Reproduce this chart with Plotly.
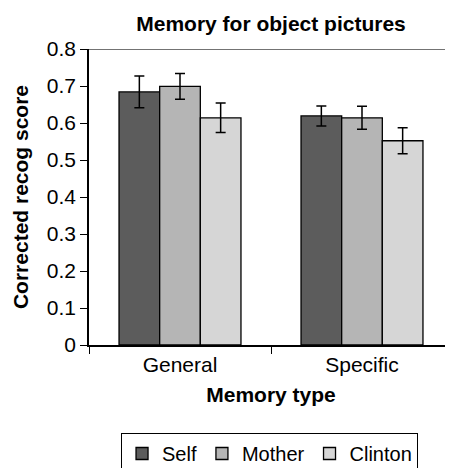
import plotly.graph_objects as go

categories = ["General", "Specific"]
series_names = ["Self", "Mother", "Clinton"]
self_vals = [0.684, 0.619]
mother_vals = [0.699, 0.614]
clinton_vals = [0.614, 0.552]
self_err = [0.043, 0.027]
mother_err = [0.035, 0.031]
clinton_err = [0.040, 0.035]
colors = ["#5c5c5c", "#b5b5b5", "#d6d6d6"]

values = [self_vals, mother_vals, clinton_vals]
errors = [self_err, mother_err, clinton_err]

FONT = "Liberation Sans, Arial, Helvetica, sans-serif"

fig = go.Figure()
for name, vals, errs, col in zip(series_names, values, errors, colors):
    fig.add_trace(go.Bar(
        x=categories, y=vals, name=name,
        marker=dict(color=col, line=dict(color="black", width=1.3)),
        error_y=dict(type="data", array=errs, color="black", thickness=1.5, width=5),
    ))

# page body adds an 8px offset, so the figure is 8px smaller and shifted
fig.update_layout(
    width=445, height=460,
    margin=dict(l=81, r=0, t=41, b=123, autoexpand=False),
    paper_bgcolor="white", plot_bgcolor="white",
    barmode="group", bargap=0.33, bargroupgap=0,
    font=dict(family=FONT, size=21, color="black"),
    title=dict(text="<b>Memory for object pictures</b>", x=0.5, xref="paper",
               y=1 - 16 / 460, yref="container", yanchor="middle",
               font=dict(size=21)),
    showlegend=True,
    legend=dict(orientation="h", x=0.088, xanchor="left",
                y=1 - 425 / 460, yref="container", yanchor="top",
                bordercolor="black", borderwidth=1, font=dict(size=20),
                traceorder="normal", itemwidth=30),
)
fig.update_xaxes(
    type="category", range=[-0.5, 1.5], showline=True, linecolor="black", linewidth=1.5,
    ticks="outside", tickson="boundaries", ticklen=7, tickcolor="black",
    title=dict(text="<b>Memory type</b>", font=dict(size=21), standoff=12),
    tickfont=dict(size=21), automargin=False,
)
fig.update_yaxes(
    range=[0, 0.8], dtick=0.1, showline=True, linecolor="black", linewidth=1.5,
    ticks="outside", ticklen=7, tickcolor="black", showgrid=False, zeroline=False,
    title=dict(text="<b>Corrected recog score</b>", font=dict(size=21), standoff=12),
    tickfont=dict(size=21), automargin=False,
)
fig.add_shape(type="line", xref="paper", yref="y", x0=0, x1=1, y0=0.8, y1=0.8,
              line=dict(color="#444", width=1.5))

fig.write_html("out.html")
